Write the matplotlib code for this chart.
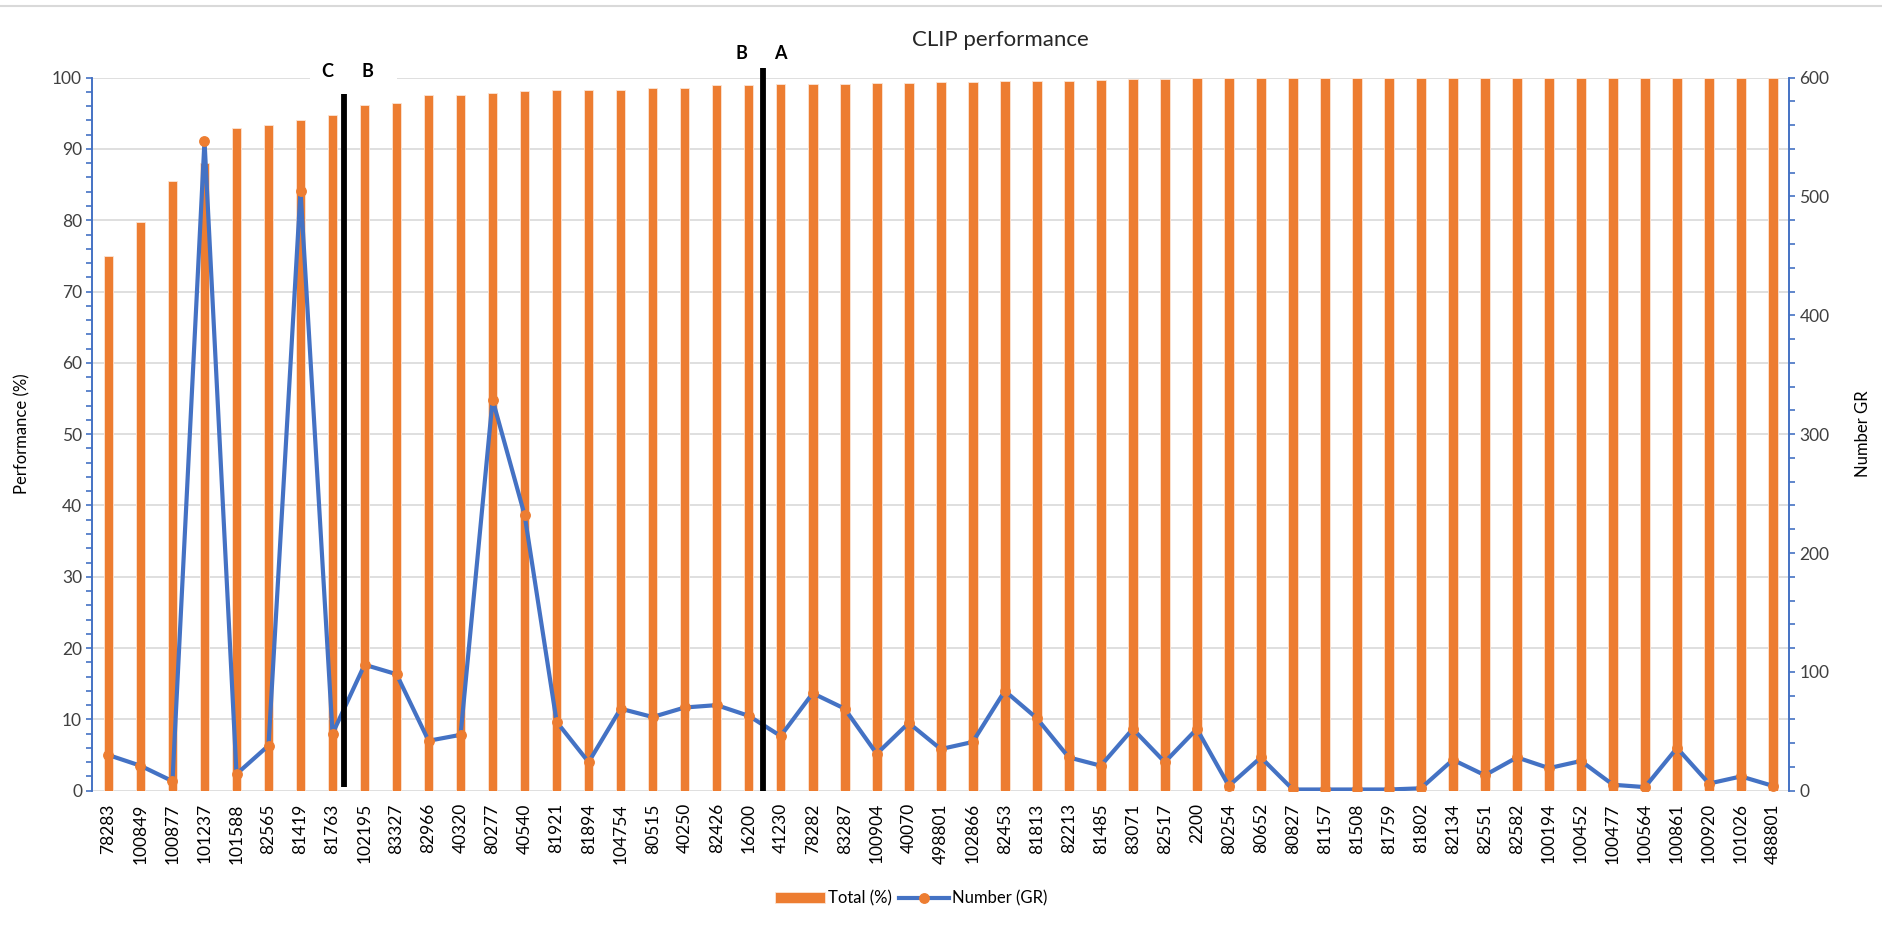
import matplotlib.pyplot as plt
import numpy as np
from matplotlib.patches import Rectangle

plt.rcParams['font.family'] = ['Lato', 'DejaVu Sans']

samples = ['78283', '100849', '100877', '101237', '101588', '82565', '81419', '81763',
           '102195', '83327', '82966', '40320', '80277', '40540', '81921', '81894',
           '104754', '80515', '40250', '82426', '16200', '41230', '78282', '83287',
           '100904', '40070', '498801', '102866', '82453', '81813', '82213', '81485',
           '83071', '82517', '2200', '80254', '80652', '80827', '81157', '81508',
           '81759', '81802', '82134', '82551', '82582', '100194', '100452', '100477',
           '100564', '100861', '100920', '101026', '488801']

total_pct = [75.0, 79.7, 85.5, 88.0, 92.9, 93.4, 94.1, 94.8,
             96.2, 96.4, 97.6, 97.6, 97.8, 98.1, 98.2, 98.3,
             98.3, 98.5, 98.5, 98.9, 98.9, 99.1, 99.1, 99.1,
             99.3, 99.3, 99.4, 99.4, 99.5, 99.5, 99.6, 99.7,
             99.8, 99.8, 100, 100, 100, 100, 100, 100,
             100, 100, 100, 100, 100, 100, 100, 100,
             100, 100, 100, 100, 100]

number_gr = [30, 21, 8, 547, 14, 38, 505, 48,
             106, 98, 42, 47, 329, 232, 58, 24,
             69, 62, 70, 72, 63, 46, 82, 69,
             31, 57, 35, 41, 84, 61, 28, 21,
             52, 24, 52, 4, 28, 1, 1, 1,
             1, 2, 26, 13, 28, 19, 25, 5,
             3, 36, 6, 12, 4]

# group boundaries (x position, bottom and top in %) and their letters
cut_lines = [(7.37, 0.5, 97.7), (20.45, 0.0, 101.4)]
cut_labels = [('C', 6.83, 100.9), ('B', 8.08, 100.9), ('B', 19.76, 103.4), ('A', 21.0, 103.4)]

orange = '#ED7D31'
blue = '#4472C4'
grey_txt = '#404040'

fig = plt.figure(figsize=(18.83, 9.30), dpi=100)
ax = fig.add_axes([0.0491, 0.1498, 0.9010, 0.7667])
ax2 = ax.twinx()

x = np.arange(len(samples))
bars = ax.bar(x, total_pct, width=0.3, color=orange, edgecolor='#FBE5D6',
              linewidth=0.6, label='Total (%)', zorder=2)
ax.set_xlim(-0.5, len(samples) - 0.5)
ax.set_ylim(0, 100)
ax.set_yticks(np.arange(0, 101, 10))
ax.set_yticks(np.arange(0, 101, 2), minor=True)
ax.set_axisbelow(True)
ax.grid(axis='y', color='#D9D9D9', linewidth=1.2)
ax.set_xticks(x)
ax.set_xticklabels(samples, rotation=90, fontsize=12.5, color='black')
ax.tick_params(axis='x', length=0, pad=9)
ax.tick_params(axis='y', which='both', direction='out', color=blue, width=1.2,
               length=4, labelsize=12.5, labelcolor=grey_txt)
ax.set_ylabel('Performance (%)', fontsize=12)
ax.yaxis.set_label_coords(-0.0368, 0.5)

line, = ax2.plot(x, number_gr, color=blue, lw=3.0, marker='o', ms=6.8,
                 mfc=orange, mec=orange, label='Number (GR)', zorder=3)
ax2.set_ylim(0, 600)
ax2.set_yticks(np.arange(0, 601, 100))
ax2.set_yticks(np.arange(0, 601, 20), minor=True)
ax2.tick_params(axis='y', which='both', direction='out', color=blue, width=1.2,
                length=4, labelsize=12.5, labelcolor=grey_txt)
ax2.set_ylabel('Number GR', fontsize=12)
ax2.yaxis.set_label_coords(1.039, 0.5)

for a in (ax, ax2):
    a.spines['top'].set_visible(False)
    a.spines['bottom'].set_visible(False)
    a.spines['left'].set_color(blue)
    a.spines['right'].set_color(blue)
    a.spines['left'].set_linewidth(1.2)
    a.spines['right'].set_linewidth(1.2)

# white gap behind the C / B letters on the 100 gridline
ax.add_patch(Rectangle((6.3, 99.2), 2.7, 3.0, facecolor='white', edgecolor='none',
                       zorder=1, clip_on=False))

for xc, y0, y1 in cut_lines:
    ax2.plot([xc, xc], [y0, y1], color='black', lw=4.2, transform=ax.transData,
             clip_on=False, zorder=5, solid_capstyle='butt')
for txt, xc, yc in cut_labels:
    ax.text(xc, yc, txt, ha='center', va='center', fontsize=13, fontweight='bold',
            clip_on=False, zorder=6)

fig.text(1000 / 1883, 1 - 40 / 930, 'CLIP performance', ha='center', va='center',
         fontsize=16, color='#262626')
fig.add_artist(plt.Line2D([0, 1], [0.9935, 0.9935], color='#D9D9D9', lw=1.5))

fig.legend(handles=[bars, line], loc='center', bbox_to_anchor=(0.484, 0.034), ncol=2,
           frameon=False, fontsize=12, handlelength=3.0, columnspacing=0.4,
           handletextpad=0.2)

fig.savefig('out.png', dpi=100)
